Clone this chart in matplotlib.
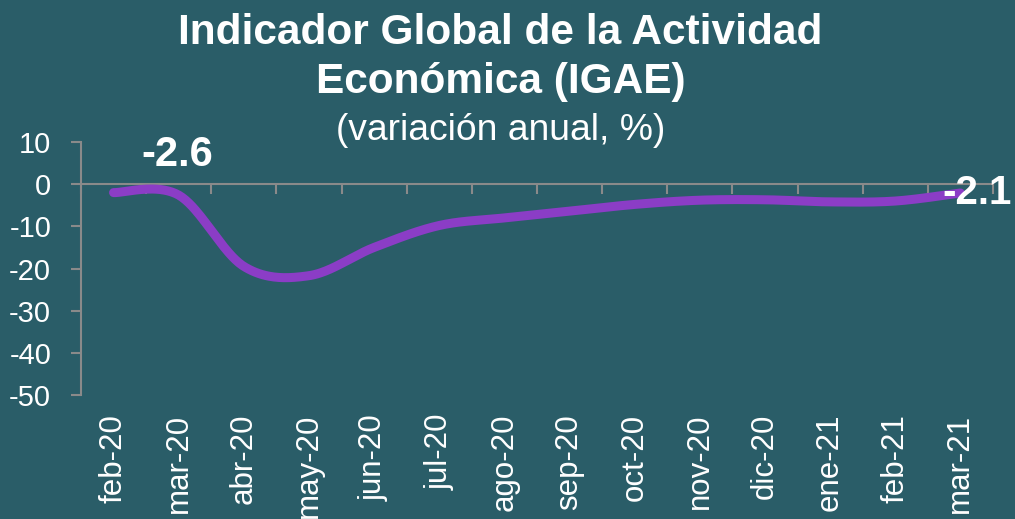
import numpy as np
import matplotlib.pyplot as plt

# ---- Data (variación anual, %) ----
months = ['feb-20', 'mar-20', 'abr-20', 'may-20', 'jun-20', 'jul-20', 'ago-20',
          'sep-20', 'oct-20', 'nov-20', 'dic-20', 'ene-21', 'feb-21', 'mar-21']
igae = [-2.0, -2.6, -19.5, -21.7, -15.0, -9.8, -8.0,
        -6.4, -4.8, -3.8, -3.7, -4.2, -4.0, -2.1]
labelled = {1: '-2.6', 13: '-2.1'}

bg = '#2a5d68'
purple = '#8b3dc6'
grey = '#8a8a8a'

plt.rcParams['font.family'] = ['Liberation Sans', 'DejaVu Sans']
plt.rcParams['axes.unicode_minus'] = False

fig = plt.figure(figsize=(10.15, 5.19), dpi=100, facecolor=bg)
ax = fig.add_axes([0.0798, 0.2389, 0.8985, 0.4875])
ax.set_facecolor(bg)

# ---- smoothed line (Excel-like cubic Bezier through the points) ----
x = np.arange(len(igae), dtype=float)
y = np.array(igae, dtype=float)
px = np.concatenate([[x[0]], x, [x[-1]]])
py = np.concatenate([[y[0]], y, [y[-1]]])
t = np.linspace(0, 1, 40)[:, None]
segs = []
for i in range(len(x) - 1):
    p0 = np.array([px[i + 1], py[i + 1]])
    p3 = np.array([px[i + 2], py[i + 2]])
    p1 = p0 + (p3 - np.array([px[i], py[i]])) / 6
    p2 = p3 - (np.array([px[i + 3], py[i + 3]]) - p0) / 6
    segs.append((1 - t) ** 3 * p0 + 3 * (1 - t) ** 2 * t * p1
                + 3 * (1 - t) * t ** 2 * p2 + t ** 3 * p3)
curve = np.vstack(segs)
ax.plot(curve[:, 0], curve[:, 1], color=purple, linewidth=6.5,
        solid_capstyle='round', solid_joinstyle='round', zorder=3)

# data labels
ax.annotate(labelled[1], (x[1], y[1]), xytext=(-1, 29), textcoords='offset points',
            ha='center', va='center', color='white', fontsize=30, fontweight='bold')
ax.annotate(labelled[13], (x[13], y[13]), xytext=(12, 0), textcoords='offset points',
            ha='center', va='center', color='white', fontsize=29, fontweight='bold',
            zorder=4)

# ---- axes ----
ax.set_xlim(-0.5, len(months) - 0.5)
ax.set_ylim(-50, 10)
ax.set_yticks(np.arange(-50, 11, 10))
ax.tick_params(axis='y', colors=grey, labelcolor='white', labelsize=21,
               length=7.5, width=1.5, pad=14)

ax.spines['top'].set_visible(False)
ax.spines['right'].set_visible(False)
ax.spines['left'].set_color(grey)
ax.spines['left'].set_linewidth(1.5)
ax.spines['bottom'].set_position(('data', 0))
ax.spines['bottom'].set_color(grey)
ax.spines['bottom'].set_linewidth(1.5)

ax.set_xticks(np.arange(len(months) + 1) - 0.5)
ax.tick_params(axis='x', colors=grey, length=7.5, width=1.5, labelbottom=False)
for i, m in enumerate(months):
    ax.text(i, -0.075, m, transform=ax.get_xaxis_transform(), rotation=90,
            ha='center', va='top', color='white', fontsize=22.5)

# ---- titles ----
fig.text(0.493, 0.889, 'Indicador Global de la Actividad\nEconómica (IGAE)',
         ha='center', va='center', color='white', fontsize=30.5, fontweight='bold',
         linespacing=1.3)
fig.text(0.493, 0.749, '(variación anual, %)', ha='center', va='center',
         color='white', fontsize=26.8)

fig.savefig('out.png', dpi=100, facecolor=bg)
